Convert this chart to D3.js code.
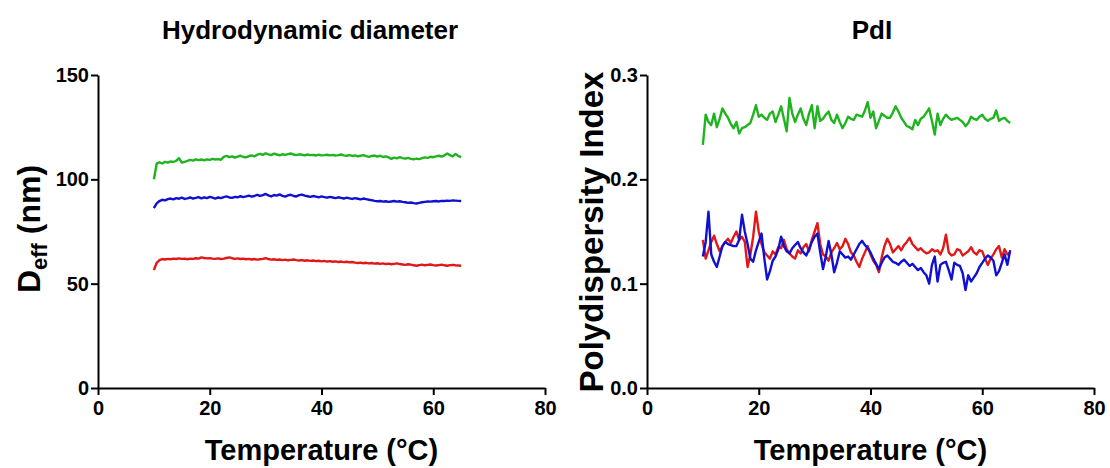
<!DOCTYPE html>
<html>
<head>
<meta charset="utf-8">
<script src="https://cdn.jsdelivr.net/npm/d3@7"></script>
<style>
  body { margin: 0; background: #fff; }
  text { font-family: "Liberation Sans", Arial, sans-serif; font-weight: bold; fill: #000; }
</style>
</head>
<body>
<div id="wrapper"></div>
<script>
const temps = [10,10.5,11,11.5,12,12.5,13,13.5,14,14.5,15,15.5,16,16.5,17,17.5,18,18.5,19,19.5,
  20,20.5,21,21.5,22,22.5,23,23.5,24,24.5,25,25.5,26,26.5,27,27.5,28,28.5,29,29.5,
  30,30.5,31,31.5,32,32.5,33,33.5,34,34.5,35,35.5,36,36.5,37,37.5,38,38.5,39,39.5,
  40,40.5,41,41.5,42,42.5,43,43.5,44,44.5,45,45.5,46,46.5,47,47.5,48,48.5,49,49.5,
  50,50.5,51,51.5,52,52.5,53,53.5,54,54.5,55,55.5,56,56.5,57,57.5,58,58.5,59,59.5,
  60,60.5,61,61.5,62,62.5,63,63.5,64,64.5,65]

// hydrodynamic diameter (nm)
const diamGreen = [100.0,107.5,108.2,107.6,108.4,108.0,108.6,108.3,108.9,110.1,108.0,108.4,108.8,109.3,109.0,109.6,109.2,109.5,109.1,109.6,
  109.3,109.8,109.5,109.7,109.4,110.8,111.2,110.6,111.0,110.4,110.9,111.3,110.7,110.5,111.1,111.5,111.0,111.8,112.2,111.7,
  112.5,112.0,111.6,112.3,111.9,111.5,112.0,111.7,112.1,112.4,111.9,111.6,112.0,111.8,111.5,111.9,111.6,111.7,111.4,111.8,
  111.5,111.6,111.8,111.5,111.7,111.4,111.6,111.9,111.5,111.3,111.6,111.2,111.5,111.0,111.3,111.6,111.1,110.8,111.2,111.4,
  110.9,111.3,110.7,111.0,110.5,109.8,110.4,110.1,110.6,110.2,109.9,110.3,109.8,109.6,109.9,109.7,110.2,110.5,110.3,110.8,
  110.6,111.0,111.3,110.9,111.5,112.4,111.6,111.0,112.2,111.1,110.7]
const diamBlue = [86.2,88.5,89.6,90.2,89.9,90.5,90.8,90.4,91.0,90.7,91.2,90.6,90.9,91.3,90.8,91.1,91.5,90.9,91.4,91.0,
  91.6,91.2,90.8,91.3,91.0,91.5,91.8,91.3,91.1,91.6,91.4,91.9,91.5,91.8,92.2,91.7,92.0,92.6,92.1,92.4,
  93.0,92.3,91.8,92.5,92.2,92.8,92.1,91.7,92.3,92.6,92.0,91.8,92.4,92.7,92.2,91.9,91.6,92.0,91.7,91.4,
  91.8,91.5,91.2,91.6,91.3,91.0,91.4,91.1,90.8,91.2,90.9,90.6,91.0,90.7,90.4,90.8,90.5,90.2,90.0,89.7,
  89.5,89.6,89.3,89.5,89.2,89.4,89.6,89.3,89.5,89.2,89.0,88.7,88.9,88.6,88.4,88.7,89.0,89.2,89.4,89.3,
  89.5,89.6,89.4,89.7,89.6,89.8,89.7,89.9,89.8,89.7,89.6]
const diamRed = [56.5,60.0,61.3,61.8,61.6,61.9,61.7,62.0,61.8,62.1,61.9,62.0,61.7,62.0,61.9,62.2,62.0,62.6,62.3,62.1,
  62.2,62.0,61.9,62.1,61.8,62.0,62.3,62.6,62.2,61.9,62.1,61.8,62.0,61.7,61.9,61.6,61.8,61.5,61.7,61.9,
  62.2,61.8,61.5,61.7,61.4,61.6,61.3,61.5,61.2,61.4,61.6,61.3,61.1,61.3,61.0,61.2,60.9,61.1,60.8,61.0,
  60.7,60.9,60.6,60.8,60.5,60.7,60.4,60.6,60.3,60.5,60.2,60.4,60.1,59.9,60.1,59.8,60.0,59.7,59.9,59.6,
  59.8,59.5,59.7,59.4,59.6,59.3,59.5,59.7,59.4,59.2,59.0,59.3,59.1,58.8,58.6,58.9,59.1,58.8,59.0,59.2,
  58.9,58.7,58.9,59.1,58.8,58.6,58.9,59.0,58.8,58.7,58.6]

// polydispersity index
const pdiGreen = [0.233,0.262,0.255,0.252,0.263,0.250,0.258,0.268,0.263,0.259,0.253,0.249,0.255,0.244,0.249,0.250,0.252,0.254,0.262,0.271,
  0.260,0.262,0.259,0.257,0.263,0.265,0.255,0.262,0.270,0.258,0.246,0.278,0.263,0.255,0.262,0.268,0.258,0.252,0.263,0.271,
  0.249,0.270,0.256,0.258,0.262,0.265,0.257,0.254,0.262,0.255,0.249,0.254,0.260,0.258,0.257,0.262,0.261,0.260,0.266,0.274,
  0.259,0.265,0.249,0.256,0.263,0.261,0.259,0.259,0.264,0.270,0.265,0.259,0.255,0.251,0.250,0.248,0.257,0.252,0.258,0.260,
  0.264,0.268,0.256,0.243,0.263,0.252,0.258,0.262,0.259,0.257,0.258,0.259,0.257,0.255,0.251,0.254,0.260,0.258,0.257,0.260,
  0.262,0.258,0.256,0.258,0.259,0.266,0.256,0.258,0.259,0.256,0.254]
const pdiRed = [0.142,0.124,0.132,0.140,0.146,0.138,0.131,0.136,0.140,0.143,0.139,0.145,0.150,0.142,0.145,0.140,0.116,0.128,0.145,0.169,
  0.150,0.138,0.130,0.127,0.124,0.131,0.128,0.135,0.134,0.142,0.133,0.129,0.126,0.124,0.132,0.129,0.135,0.138,0.131,0.142,
  0.150,0.158,0.138,0.128,0.126,0.122,0.130,0.134,0.139,0.133,0.136,0.143,0.138,0.130,0.127,0.121,0.116,0.124,0.130,0.136,
  0.128,0.122,0.118,0.111,0.125,0.136,0.143,0.138,0.130,0.133,0.136,0.132,0.137,0.140,0.144,0.138,0.135,0.132,0.134,0.131,
  0.129,0.130,0.133,0.131,0.132,0.128,0.134,0.147,0.130,0.127,0.128,0.133,0.132,0.127,0.129,0.131,0.135,0.130,0.128,0.132,
  0.131,0.124,0.118,0.124,0.128,0.133,0.136,0.125,0.133,0.128,0.130]
const pdiBlue = [0.126,0.140,0.169,0.128,0.121,0.116,0.126,0.136,0.140,0.138,0.137,0.136,0.136,0.142,0.166,0.150,0.138,0.124,0.121,0.132,
  0.140,0.148,0.124,0.104,0.112,0.122,0.126,0.133,0.145,0.136,0.131,0.129,0.134,0.137,0.140,0.134,0.130,0.127,0.133,0.140,
  0.145,0.148,0.130,0.114,0.126,0.141,0.128,0.111,0.120,0.131,0.128,0.125,0.126,0.123,0.128,0.133,0.138,0.141,0.137,0.134,
  0.130,0.124,0.119,0.114,0.120,0.125,0.127,0.124,0.121,0.120,0.118,0.121,0.123,0.120,0.117,0.119,0.116,0.113,0.115,0.111,
  0.108,0.100,0.118,0.126,0.102,0.118,0.120,0.121,0.113,0.104,0.120,0.118,0.117,0.110,0.094,0.108,0.102,0.106,0.110,0.116,
  0.120,0.124,0.127,0.125,0.122,0.108,0.112,0.120,0.128,0.118,0.132]

const xTicks = [0, 20, 40, 60, 80]
const diamTicks = [0, 50, 100, 150]
const pdiTicks = [0.0, 0.1, 0.2, 0.3]

const colors = { green: "#1fb41f", blue: "#1010d2", red: "#e01818" }

const width = 1110, height = 468

const svg = d3.select("#wrapper")
              .append("svg")
              .attr("width", width)
              .attr("height", height)

function drawPanel(cfg){
    const xScale = d3.scaleLinear()
                     .domain([0, 80])
                     .range([cfg.left, cfg.left + 447])
    const yScale = d3.scaleLinear()
                     .domain(cfg.yDomain)
                     .range([388, 75])

    const line = d3.line()
                   .x((d, i) => xScale(temps[i]))
                   .y(d => yScale(d))

    cfg.series.forEach(s => {
        svg.append("path")
           .attr("d", line(s.values))
           .attr("fill", "none")
           .attr("stroke", s.color)
           .attr("stroke-width", 2.4)
           .attr("stroke-linejoin", "round")
    })

    const xAxis = svg.append("g")
                     .attr("transform", `translate(0,388)`)
                     .call(d3.axisBottom(xScale).tickValues(xTicks).tickSize(7).tickSizeOuter(0).tickPadding(6))
    const yAxis = svg.append("g")
                     .attr("transform", `translate(${cfg.left},0)`)
                     .call(d3.axisLeft(yScale).tickValues(cfg.yTicks).tickFormat(cfg.fmt).tickSize(7).tickSizeOuter(0).tickPadding(2))

    ;[xAxis, yAxis].forEach(a => {
        a.select(".domain").attr("stroke", "#000").attr("stroke-width", 2)
        a.selectAll(".tick line").attr("stroke", "#000").attr("stroke-width", 2)
        a.selectAll(".tick text")
         .style("font-family", '"Liberation Sans", Arial, sans-serif')
         .style("font-weight", "bold")
         .style("font-size", "20px")
         .attr("fill", "#000")
    })

    svg.append("text")
       .attr("x", xScale(40))
       .attr("y", 460)
       .attr("text-anchor", "middle")
       .style("font-size", "29px")
       .text("Temperature (°C)")

    svg.append("text")
       .attr("x", cfg.titleX)
       .attr("y", 39)
       .attr("text-anchor", "middle")
       .style("font-size", "26px")
       .text(cfg.title)

    return {xScale, yScale}
}

drawPanel({
    left: 98,
    yDomain: [0, 150],
    yTicks: diamTicks,
    fmt: d3.format("d"),
    title: "Hydrodynamic diameter",
    titleX: 310,
    series: [
        {values: diamGreen, color: colors.green},
        {values: diamBlue, color: colors.blue},
        {values: diamRed, color: colors.red}
    ]
})

drawPanel({
    left: 647,
    yDomain: [0, 0.3],
    yTicks: pdiTicks,
    fmt: d3.format(".1f"),
    title: "PdI",
    titleX: 872,
    series: [
        {values: pdiGreen, color: colors.green},
        {values: pdiRed, color: colors.red},
        {values: pdiBlue, color: colors.blue}
    ]
})

// y axis titles
const deff = svg.append("text")
                .attr("transform", "translate(40,229) rotate(-90)")
                .attr("text-anchor", "middle")
                .style("font-size", "32px")
deff.append("tspan").text("D")
deff.append("tspan").attr("dy", 7).style("font-size", "22px").text("eff")
deff.append("tspan").attr("dy", -7).text(" (nm)")

svg.append("text")
   .attr("transform", "translate(603,232) rotate(-90)")
   .attr("text-anchor", "middle")
   .style("font-size", "33px")
   .text("Polydispersity Index")
</script>
</body>
</html>
